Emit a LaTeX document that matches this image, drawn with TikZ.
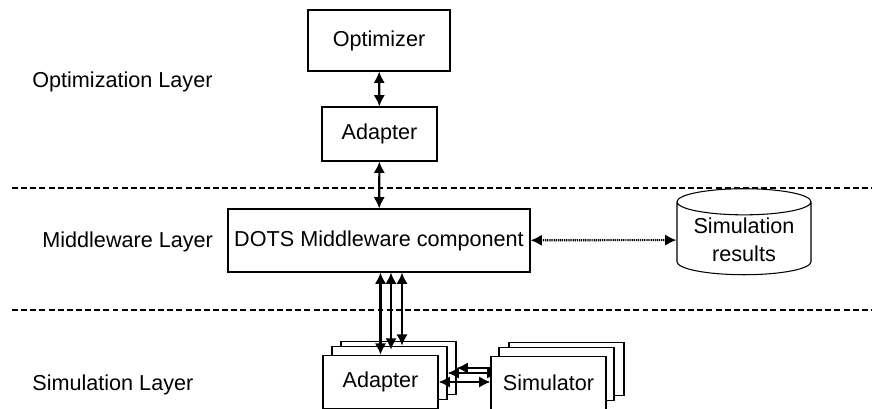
\documentclass[tikz,border=0pt]{standalone}
\usepackage{fontspec}
\setmainfont{Liberation Sans}
\usetikzlibrary{arrows.meta,shapes.geometric,calc}
\begin{document}
\begin{tikzpicture}
        [
        font=\fontsize{12.3pt}{16pt}\selectfont,
        >={Latex[length=6.5pt,width=6.5pt]},
        Box/.style={rectangle,draw=black,fill=white,line width=0.6pt,inner sep=1pt},
        Tag/.style={rectangle,anchor=west,inner sep=0pt},
        Stack/.style={Box,minimum width=2.3cm,minimum height=1.07cm},
        DB/.style={cylinder,shape border rotate=90,aspect=0.25,draw=black,fill=white,line width=0.6pt,minimum width=2.68cm,minimum height=1.72cm,align=center,inner sep=1pt},
        Link/.style={<->,line width=1.2pt},
        Sep/.style={line width=1.1pt,dash pattern=on 3.4pt off 1.8pt},
        ]
    \useasboundingbox (0,0) rectangle (17.52,8.16);

        \draw[Sep] (0.24,4.40) -- (17.44,4.40);
        \draw[Sep] (0.24,1.96) -- (17.44,1.96);

        \node[Tag] (tag1) at (0.64, 6.52){Optimization Layer};
        \node[Tag] (tag2) at (0.84, 3.32){Middleware Layer};
        \node[Tag] (tag3) at (0.64, 0.46){Simulation Layer};

        \node[Box, minimum width=2.84cm, minimum height=1.22cm] (opt) at (7.58, 7.35){Optimizer};
        \node[Box, minimum width=2.3cm, minimum height=1.08cm] (ad0) at (7.59, 5.48){Adapter};
        \node[Box, minimum width=6.04cm, minimum height=1.26cm] (mw) at (7.58, 3.35){DOTS Middleware component};
        \node[DB] (db) at (14.88, 3.36){Simulation\\results};

\draw[Link] (opt) -- (ad0);
\draw[Link] (ad0) -- (mw);
\draw[Link, dash pattern=on 0.7pt off 0.5pt] (mw) -- (db);

% adapter and simulator stacks
\node[Stack] (ad3) at (7.97, 0.80){};
\node[Stack] (ad2) at (7.79, 0.70){};
\node[Stack] (ad1) at (7.61, 0.52){Adapter};
\node[Stack] (sim3) at (11.33, 0.78){};
\node[Stack] (sim2) at (11.13, 0.68){};

\draw[Link] (ad3.east) -- (ad3.east -| sim3.west);
\draw[Link] (ad2.east) -- (ad2.east -| sim2.west);
\node[Stack] (sim1) at (10.97, 0.50){Simulator};
\draw[Link] (ad1.east) -- (ad1.east -| sim1.west);

\coordinate (e2) at ($(ad1.north)+(0.21,0.1)$);
\coordinate (e3) at ($(ad2.north)+(0.25,0)$);
\draw[Link] (mw.south -| ad1.north) -- (ad1.north);
\draw[Link] (mw.south -| e2) -- (e2);
\draw[Link] (mw.south -| e3) -- (e3);

    \end{tikzpicture}
\end{document}
